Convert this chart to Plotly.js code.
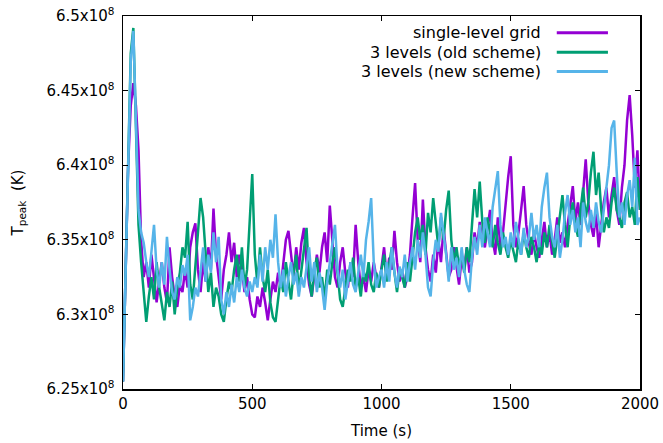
<!DOCTYPE html>
<html>
<head>
<meta charset="utf-8">
<script src="https://cdn.plot.ly/plotly-3.0.1.min.js"></script>
<style>html,body{margin:0;padding:0;background:#fff}#chart{width:663px;height:443px}</style>
</head>
<body>
<div id="chart"></div>
<script>
// Time samples (s)
const time_s = [
0,10,20,30,40,50,60,70,80,90,100,110,120,130,140,150,160,170,180,190,
200,210,220,230,240,250,260,270,280,290,300,310,320,330,340,350,360,370,380,390,
400,410,420,430,440,450,460,470,480,490,500,510,520,530,540,550,560,570,580,590,
600,610,620,630,640,650,660,670,680,690,700,710,720,730,740,750,760,770,780,790,
800,810,820,830,840,850,860,870,880,890,900,910,920,930,940,950,960,970,980,990,
1000,1010,1020,1030,1040,1050,1060,1070,1080,1090,1100,1110,1120,1130,1140,1150,1160,1170,1180,1190,
1200,1210,1220,1230,1240,1250,1260,1270,1280,1290,1300,1310,1320,1330,1340,1350,1360,1370,1380,1390,
1400,1410,1420,1430,1440,1450,1460,1470,1480,1490,1500,1510,1520,1530,1540,1550,1560,1570,1580,1590,
1600,1610,1620,1630,1640,1650,1660,1670,1680,1690,1700,1710,1720,1730,1740,1750,1760,1770,1780,1790,
1800,1810,1820,1830,1840,1850,1860,1870,1880,1890,1900,1910,1920,1930,1940,1950,1960,1970,1980,1990,2000];

// Peak temperature in units of 1e8 K
const singleLevel = [
6.255,6.330,6.400,6.440,6.455,6.440,6.410,6.350,6.325,6.335,
6.318,6.340,6.325,6.308,6.322,6.335,6.318,6.308,6.345,6.325,
6.312,6.305,6.320,6.315,6.330,6.318,6.345,6.355,6.361,6.330,
6.315,6.335,6.322,6.345,6.330,6.371,6.340,6.325,6.310,6.330,
6.340,6.355,6.335,6.348,6.325,6.340,6.330,6.315,6.325,6.310,
6.300,6.298,6.312,6.305,6.318,6.308,6.296,6.310,6.322,6.315,
6.328,6.318,6.335,6.350,6.356,6.340,6.325,6.345,6.330,6.348,
6.358,6.335,6.320,6.312,6.325,6.340,6.328,6.345,6.355,6.335,
6.373,6.345,6.325,6.318,6.335,6.345,6.328,6.318,6.335,6.325,
6.360,6.335,6.318,6.325,6.315,6.330,6.322,6.335,6.325,6.318,
6.330,6.345,6.325,6.338,6.330,6.356,6.335,6.322,6.330,6.318,
6.325,6.340,6.365,6.388,6.350,6.335,6.377,6.345,6.330,6.322,
6.340,6.328,6.350,6.335,6.358,6.340,6.325,6.330,6.345,6.332,
6.320,6.338,6.330,6.345,6.328,6.335,6.355,6.345,6.362,6.350,
6.345,6.358,6.370,6.350,6.340,6.365,6.345,6.355,6.375,6.392,
6.406,6.360,6.345,6.355,6.370,6.386,6.360,6.348,6.340,6.355,
6.345,6.338,6.350,6.362,6.345,6.355,6.340,6.350,6.365,6.348,
6.355,6.345,6.360,6.372,6.386,6.362,6.375,6.360,6.380,6.404,
6.375,6.360,6.352,6.368,6.345,6.360,6.375,6.385,6.365,6.380,
6.392,6.370,6.360,6.385,6.400,6.430,6.447,6.420,6.385,6.410,6.370];

const oldScheme = [
6.255,6.335,6.415,6.475,6.492,6.430,6.360,6.335,6.315,6.295,
6.312,6.325,6.310,6.335,6.318,6.308,6.296,6.315,6.305,6.322,
6.300,6.318,6.328,6.345,6.338,6.362,6.320,6.310,6.330,6.355,
6.378,6.365,6.340,6.315,6.328,6.305,6.318,6.312,6.300,6.295,
6.310,6.322,6.315,6.330,6.340,6.322,6.345,6.318,6.330,6.360,
6.394,6.340,6.320,6.345,6.325,6.315,6.330,6.308,6.298,6.295,
6.310,6.325,6.315,6.335,6.322,6.310,6.328,6.340,6.315,6.330,
6.345,6.358,6.325,6.312,6.330,6.338,6.318,6.325,6.310,6.330,
6.320,6.335,6.345,6.325,6.310,6.305,6.318,6.330,6.322,6.338,
6.318,6.325,6.312,6.330,6.322,6.335,6.320,6.315,6.328,6.318,
6.330,6.340,6.322,6.335,6.345,6.328,6.315,6.330,6.325,6.318,
6.335,6.322,6.340,6.355,6.365,6.350,6.360,6.340,6.368,6.355,
6.378,6.360,6.345,6.365,6.350,6.370,6.383,6.350,6.335,6.345,
6.332,6.340,6.328,6.345,6.335,6.360,6.384,6.365,6.389,6.362,
6.348,6.365,6.355,6.345,6.360,6.348,6.340,6.355,6.345,6.338,
6.350,6.342,6.335,6.350,6.340,6.355,6.345,6.338,6.352,6.345,
6.335,6.348,6.340,6.355,6.345,6.360,6.348,6.338,6.352,6.365,
6.380,6.360,6.345,6.365,6.375,6.360,6.352,6.370,6.385,6.365,
6.375,6.395,6.409,6.380,6.395,6.370,6.355,6.365,6.358,6.375,
6.385,6.370,6.365,6.358,6.375,6.382,6.365,6.372,6.360,6.392,6.370];

const newScheme = [
6.255,6.330,6.410,6.470,6.490,6.420,6.370,6.355,6.348,6.335,
6.325,6.342,6.360,6.330,6.318,6.335,6.320,6.352,6.330,6.315,
6.310,6.325,6.318,6.333,6.326,6.340,6.296,6.305,6.318,6.312,
6.330,6.345,6.322,6.340,6.328,6.355,6.335,6.352,6.310,6.300,
6.315,6.305,6.320,6.308,6.325,6.315,6.330,6.318,6.312,6.322,
6.315,6.325,6.318,6.340,6.322,6.345,6.330,6.350,6.338,6.367,
6.335,6.318,6.330,6.312,6.325,6.335,6.320,6.328,6.312,6.325,
6.318,6.330,6.345,6.322,6.335,6.315,6.328,6.318,6.303,6.322,
6.335,6.350,6.360,6.330,6.318,6.330,6.310,6.322,6.335,6.320,
6.315,6.328,6.340,6.325,6.350,6.362,6.378,6.335,6.318,6.325,
6.330,6.318,6.335,6.322,6.345,6.328,6.318,6.332,6.325,6.340,
6.322,6.335,6.345,6.330,6.350,6.338,6.355,6.340,6.318,6.312,
6.335,6.350,6.342,6.368,6.355,6.340,6.322,6.345,6.330,6.338,
6.325,6.345,6.330,6.320,6.315,6.338,6.352,6.340,6.360,6.345,
6.365,6.355,6.345,6.372,6.385,6.396,6.360,6.345,6.352,6.340,
6.355,6.345,6.362,6.350,6.340,6.358,6.345,6.352,6.368,6.350,
6.360,6.345,6.372,6.385,6.395,6.365,6.352,6.345,6.360,6.338,
6.350,6.368,6.380,6.360,6.370,6.355,6.365,6.345,6.375,6.362,
6.355,6.370,6.358,6.375,6.362,6.355,6.370,6.385,6.400,6.425,
6.430,6.395,6.365,6.375,6.360,6.380,6.390,6.372,6.405,6.360,6.365];

const seriesNames = ['single-level grid','3 levels (old scheme)','3 levels (new scheme)'];
const seriesColors = ['#9400d3','#009e73','#56b4e9'];
const yTickVals = [6.25,6.30,6.35,6.40,6.45,6.50];
const yTickText = ['6.25x10<sup>8</sup>','6.3x10<sup>8</sup>','6.35x10<sup>8</sup>','6.4x10<sup>8</sup>','6.45x10<sup>8</sup>','6.5x10<sup>8</sup>'];
const xTickVals = [0,500,1000,1500,2000];

const ys = [singleLevel, oldScheme, newScheme];
const traces = ys.map((y,i)=>({
  x: time_s, y: y, type:'scatter', mode:'lines', name: seriesNames[i],
  line:{color: seriesColors[i], width:2.5}, showlegend:false
}));

const font = {family:'DejaVu Sans, sans-serif', size:15, color:'#000'};
const legendY = [0.955, 0.903, 0.851];
const annotations = seriesNames.map((n,i)=>({
  xref:'paper', yref:'paper', x:0.812, y:legendY[i], xanchor:'right', yanchor:'middle',
  text:n, showarrow:false, font:{family:font.family, size:16, color:'#000'}
}));
const shapes = seriesNames.map((n,i)=>({
  type:'line', xref:'paper', yref:'paper', x0:0.839, x1:0.938, y0:legendY[i], y1:legendY[i],
  line:{color:seriesColors[i], width:3}
}));

const axisCommon = {showline:true, linecolor:'#000', linewidth:1.5, mirror:'allticks',
  ticks:'inside', ticklen:5, tickwidth:1, tickcolor:'#000', showgrid:false, zeroline:false,
  tickfont:{family:font.family, size:15, color:'#000'}};

const layout = {
  width:663, height:443,
  margin:{l:123, r:23, t:16, b:54},
  paper_bgcolor:'#fff', plot_bgcolor:'#fff',
  font: font,
  xaxis: Object.assign({}, axisCommon, {range:[0,2000], tickvals:xTickVals,
    title:{text:'Time (s)', font:{family:font.family, size:15, color:'#000'}, standoff:14}}),
  yaxis: Object.assign({}, axisCommon, {range:[6.25,6.5], tickvals:yTickVals, ticktext:yTickText,
    ticklabelstandoff:4,
    title:{text:'T<sub>peak</sub>  (K)', font:{family:font.family, size:15, color:'#000'}, standoff:19}}),
  annotations: annotations,
  shapes: shapes
};
Plotly.newPlot('chart', traces, layout, {staticPlot:true, displayModeBar:false});
</script>
</body>
</html>
